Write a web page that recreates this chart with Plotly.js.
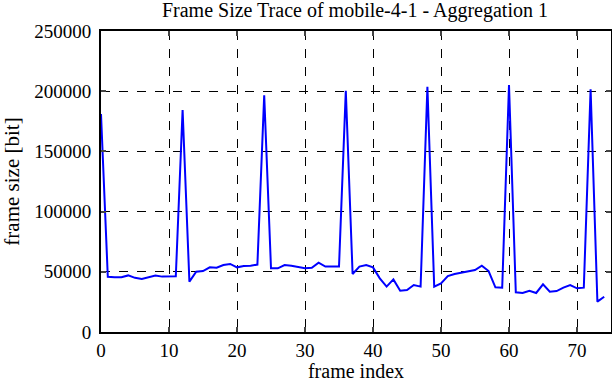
<!DOCTYPE html>
<html>
<head>
<meta charset="utf-8">
<script src="https://cdn.plot.ly/plotly-3.0.1.min.js"></script>
<style>html,body{margin:0;padding:0;background:#fff}#chart{width:612px;height:382px}</style>
</head>
<body>
<div id="chart"></div>
<script>
const frameIndex = Array.from({length: 75}, (_, i) => i);
const frameSize = [
  181000, 45900, 45500, 45500, 47000, 45000, 44000, 45500, 47000, 46000,
  46000, 46200, 184400, 41800, 50100, 50600, 53700, 53400, 55600, 56500,
  53700, 54800, 55000, 56000, 196600, 52900, 52900, 55600, 55000, 53700,
  52900, 53400, 57600, 54300, 54300, 54300, 200400, 48200, 54300, 55600,
  53700, 44600, 37700, 43700, 34300, 34800, 39000, 37700, 203700, 37700,
  40400, 46500, 48200, 49300, 50600, 51500, 55100, 50600, 37100, 36800,
  205200, 33000, 32400, 34300, 32400, 39600, 33500, 34000, 36800, 39000,
  36300, 36800, 201500, 25200, 29300
];
const xTickVals = [0, 10, 20, 30, 40, 50, 60, 70];
const yTickVals = [0, 50000, 100000, 150000, 200000, 250000];
const titleText = 'Frame Size Trace of mobile-4-1 - Aggregation 1';
const xTitle = 'frame index';
const yTitle = 'frame size [bit]';

const fam = 'Times New Roman, Liberation Serif, serif';

Plotly.newPlot('chart', [{
  x: frameIndex, y: frameSize, type: 'scatter', mode: 'lines',
  line: {color: '#0000ff', width: 2}
}], {
  width: 612, height: 382,
  margin: {l: 101, r: 1, t: 31, b: 50},
  paper_bgcolor: '#fff', plot_bgcolor: '#fff',
  font: {family: fam, size: 19, color: '#000'},
  showlegend: false,
  title: {text: titleText, font: {family: fam, size: 20, color: '#000'}, x: 0.58, xanchor: 'center', y: 0.974, yanchor: 'middle'},
  xaxis: {
    range: [0, 75], tickmode: 'array', tickvals: xTickVals, ticks: 'inside', ticklen: 5, tickwidth: 1.5,
    showline: true, linecolor: '#000', linewidth: 2, mirror: 'ticks',
    showgrid: true, gridcolor: '#000', griddash: 'dash', gridwidth: 1, zeroline: false,
    tickfont: {family: fam, size: 19, color: '#000'},
    title: {text: xTitle, font: {family: fam, size: 20, color: '#000'}, standoff: 6}
  },
  yaxis: {
    range: [0, 250000], tickmode: 'array', tickvals: yTickVals, ticks: 'inside', ticklen: 5, tickwidth: 1.5,
    showline: true, linecolor: '#000', linewidth: 2, mirror: 'ticks',
    showgrid: true, gridcolor: '#000', griddash: 'dash', gridwidth: 1, zeroline: false,
    tickformat: 'd', ticklabelstandoff: 4,
    tickfont: {family: fam, size: 19, color: '#000'},
    title: {text: yTitle, font: {family: fam, size: 21, color: '#000'}, standoff: 16}
  }
}, {displayModeBar: false});
</script>
</body>
</html>
